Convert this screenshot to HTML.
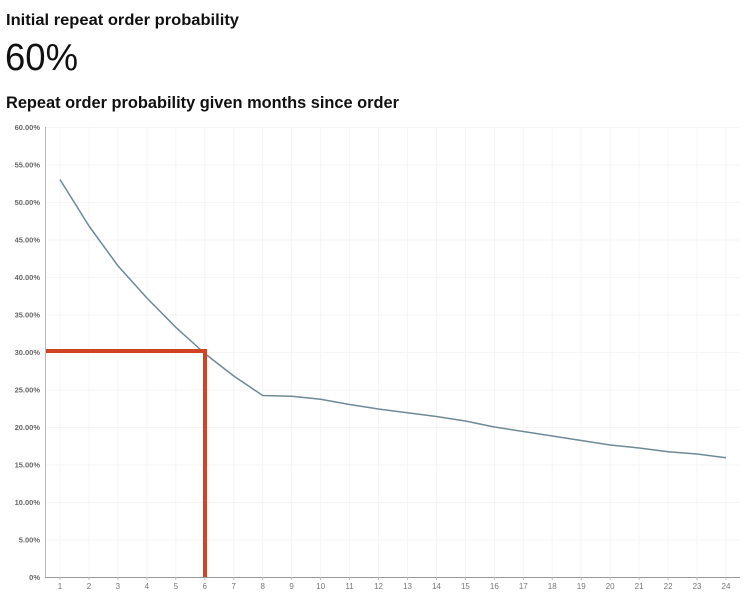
<!DOCTYPE html>
<html><head><style>
body{margin:0;width:750px;height:604px;background:#fff;overflow:hidden}
</style></head><body>
<svg width="750" height="604" xmlns="http://www.w3.org/2000/svg" font-family="Liberation Sans, sans-serif">
<text x="6" y="25" font-size="16" font-weight="bold" fill="#111" textLength="233" lengthAdjust="spacingAndGlyphs">Initial repeat order probability</text>
<text x="5" y="70" font-size="38" fill="#111" stroke-width="0" textLength="73" lengthAdjust="spacingAndGlyphs">60%</text>
<text x="6" y="108" font-size="17" font-weight="bold" fill="#111" textLength="393" lengthAdjust="spacingAndGlyphs">Repeat order probability given months since order</text>
<g stroke="#f5f5f5" stroke-width="1">
<line x1="46" x2="740" y1="127.5" y2="127.5"/><line x1="46" x2="740" y1="165" y2="165"/><line x1="46" x2="740" y1="202.5" y2="202.5"/><line x1="46" x2="740" y1="240" y2="240"/><line x1="46" x2="740" y1="277.5" y2="277.5"/><line x1="46" x2="740" y1="315" y2="315"/><line x1="46" x2="740" y1="352.5" y2="352.5"/><line x1="46" x2="740" y1="390" y2="390"/><line x1="46" x2="740" y1="427.5" y2="427.5"/><line x1="46" x2="740" y1="465" y2="465"/><line x1="46" x2="740" y1="502.5" y2="502.5"/><line x1="46" x2="740" y1="540" y2="540"/>
</g>
<g id="vg" stroke="#f5f5f5" stroke-width="1"></g>
<line x1="45.5" y1="127" x2="45.5" y2="577" stroke="#bbb"/>
<line x1="45" y1="577.5" x2="740" y2="577.5" stroke="#999"/>
<g font-size="7.5" font-weight="bold" fill="#666" text-anchor="end">
<text x="40" y="130">60.00%</text><text x="40" y="167.5">55.00%</text><text x="40" y="205">50.00%</text><text x="40" y="242.5">45.00%</text><text x="40" y="280">40.00%</text><text x="40" y="317.5">35.00%</text><text x="40" y="355">30.00%</text><text x="40" y="392.5">25.00%</text><text x="40" y="430">20.00%</text><text x="40" y="467.5">15.00%</text><text x="40" y="505">10.00%</text><text x="40" y="542.5">5.00%</text><text x="40" y="580">0%</text>
</g>
<g id="xl" font-size="8" fill="#777" text-anchor="middle"></g>
<polyline id="ln" fill="none" stroke="#6e8a96" stroke-width="1.5" stroke-linejoin="round"/>
<path d="M46 351 H205 V577" fill="none" stroke="#d04423" stroke-width="4"/>
</svg>
<script>
var v=[53,46.8,41.5,37.2,33.3,29.8,26.8,24.2,24.1,23.7,23.0,22.4,21.9,21.4,20.8,20.0,19.4,18.8,18.2,17.6,17.2,16.7,16.4,15.9];
var pts=[],xl=document.getElementById('xl'),vg=document.getElementById('vg'),ns='http://www.w3.org/2000/svg';
for(var i=0;i<24;i++){var x=60+i*(666/23);pts.push(x.toFixed(1)+','+(577-v[i]*7.5).toFixed(1));
var t=document.createElementNS(ns,'text');t.setAttribute('x',x);t.setAttribute('y',589);t.textContent=i+1;xl.appendChild(t);
var l=document.createElementNS(ns,'line');l.setAttribute('x1',x);l.setAttribute('x2',x);l.setAttribute('y1',127);l.setAttribute('y2',577);vg.appendChild(l);
var k=document.createElementNS(ns,'line');k.setAttribute('x1',x);k.setAttribute('x2',x);k.setAttribute('y1',577);k.setAttribute('y2',580);k.setAttribute('stroke','#bbb');xl.appendChild(k);}
document.getElementById('ln').setAttribute('points',pts.join(' '));
</script>
</body></html>
